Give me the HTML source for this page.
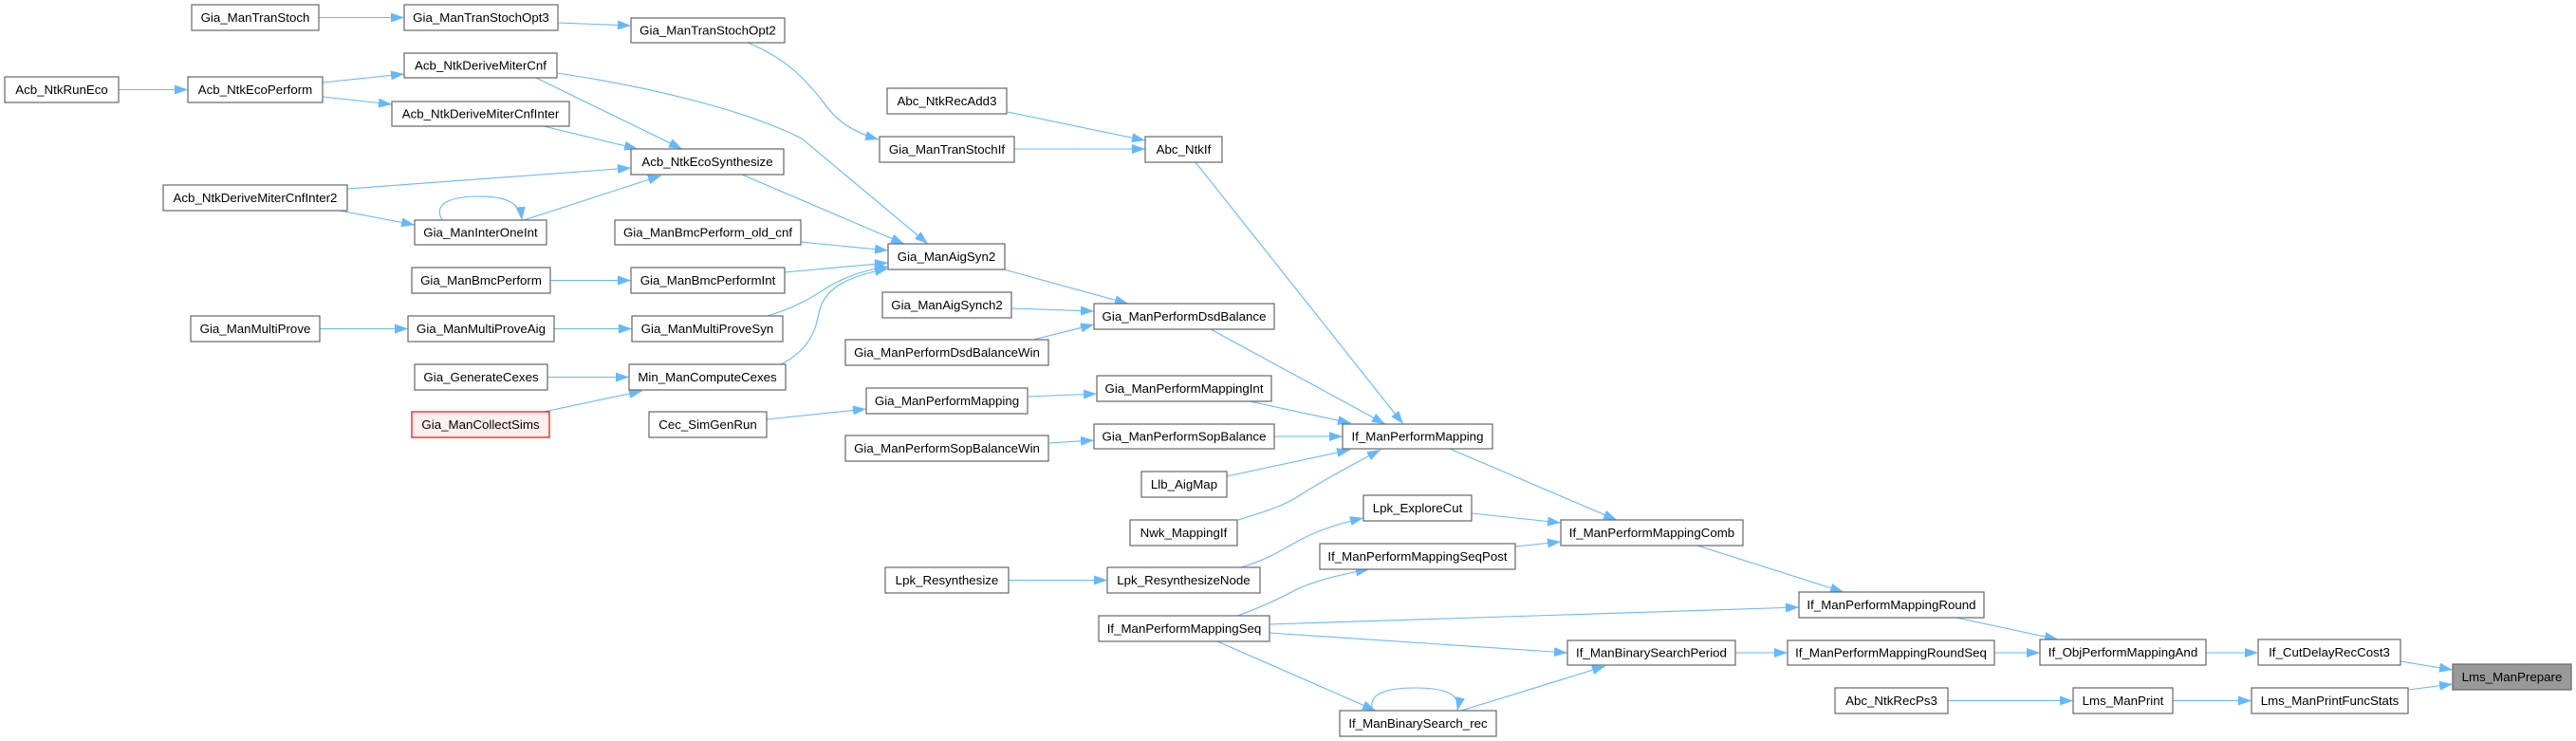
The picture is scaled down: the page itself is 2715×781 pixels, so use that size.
<!DOCTYPE html>
<html><head><meta charset="utf-8"><style>
html,body{margin:0;padding:0;background:#fff;}
svg{display:block;}
text{font-family:"Liberation Sans",Arial,sans-serif;font-size:13.3px;fill:#000;text-anchor:middle;}
.n{fill:#fff;stroke:#666;stroke-width:1.2;}
.e{fill:none;stroke:#63B8FF;stroke-width:1.1;}
</style></head><body>
<svg width="2715" height="781" viewBox="0 0 2715 781" xmlns="http://www.w3.org/2000/svg">
<defs>
<marker id="a" markerUnits="userSpaceOnUse" markerWidth="14" markerHeight="10" refX="14" refY="5" orient="auto"><path d="M0,0 L14,5 L0,10 z" fill="#63B8FF"/></marker>
</defs>
<g marker-end="url(#a)">
<path class="e" marker-end="url(#a)" d="M336,18.5 L426,18.5"/>
<path class="e" marker-end="url(#a)" d="M588,24 L665,27"/>
<path class="e" marker-end="url(#a)" d="M788,45 C830,62 850,85 868,108 C880,125 895,138 926,147"/>
<path class="e" marker-end="url(#a)" d="M1062,118 L1207,148"/>
<path class="e" marker-end="url(#a)" d="M1069,157 L1207,157"/>
<path class="e" marker-end="url(#a)" d="M1260,171 L1479,447"/>
<path class="e" marker-end="url(#a)" d="M125,94.5 L198,94.5"/>
<path class="e" marker-end="url(#a)" d="M340,87 L426,78"/>
<path class="e" marker-end="url(#a)" d="M340,102 L413,110"/>
<path class="e" marker-end="url(#a)" d="M565,82 L719,157"/>
<path class="e" marker-end="url(#a)" d="M587,77 C690,92 790,118 845,146 L978,257"/>
<path class="e" marker-end="url(#a)" d="M573,133 L672,157"/>
<path class="e" marker-end="url(#a)" d="M366,199 L665,177"/>
<path class="e" marker-end="url(#a)" d="M358,222 L437,237"/>
<path class="e" marker-end="url(#a)" d="M466,232 C455,212 480,207 506,207 C530,207 548,212 550,232"/>
<path class="e" marker-end="url(#a)" d="M552,232 L697,185"/>
<path class="e" marker-end="url(#a)" d="M782,184 L953,257"/>
<path class="e" marker-end="url(#a)" d="M844,255 L936,264"/>
<path class="e" marker-end="url(#a)" d="M580,295.5 L665,295.5"/>
<path class="e" marker-end="url(#a)" d="M827,287 L936,277"/>
<path class="e" marker-end="url(#a)" d="M337,346.5 L430,346.5"/>
<path class="e" marker-end="url(#a)" d="M584,346.5 L666,346.5"/>
<path class="e" marker-end="url(#a)" d="M809,333 C845,322 860,310 877,300 C895,290 915,284 936,281"/>
<path class="e" marker-end="url(#a)" d="M577,397.5 L663,397.5"/>
<path class="e" marker-end="url(#a)" d="M573,434 L677,412"/>
<path class="e" marker-end="url(#a)" d="M823,384 C855,368 860,345 863,330 C868,305 890,292 936,283"/>
<path class="e" marker-end="url(#a)" d="M1058,284 L1189,320"/>
<path class="e" marker-end="url(#a)" d="M1066,325 L1153,328"/>
<path class="e" marker-end="url(#a)" d="M1089,358 L1153,342"/>
<path class="e" marker-end="url(#a)" d="M1276,347 L1460,447"/>
<path class="e" marker-end="url(#a)" d="M1083,418 L1156,415"/>
<path class="e" marker-end="url(#a)" d="M808,442 L913,431"/>
<path class="e" marker-end="url(#a)" d="M1317,423 L1424,446"/>
<path class="e" marker-end="url(#a)" d="M1105,467 L1153,464"/>
<path class="e" marker-end="url(#a)" d="M1343,460 L1415,460"/>
<path class="e" marker-end="url(#a)" d="M1293,502 L1423,474"/>
<path class="e" marker-end="url(#a)" d="M1305,548 C1330,540 1350,535 1370,522 C1395,506 1425,490 1455,474"/>
<path class="e" marker-end="url(#a)" d="M1528,473 L1704,548"/>
<path class="e" marker-end="url(#a)" d="M1551,541 L1645,551"/>
<path class="e" marker-end="url(#a)" d="M1597,576 L1645,571"/>
<path class="e" marker-end="url(#a)" d="M1063,611.5 L1167,611.5"/>
<path class="e" marker-end="url(#a)" d="M1308,598 C1335,590 1350,580 1365,572 C1385,560 1410,552 1437,546"/>
<path class="e" marker-end="url(#a)" d="M1304,649 C1330,640 1350,630 1365,622 C1385,612 1415,605 1443,600"/>
<path class="e" marker-end="url(#a)" d="M1338,658 L1896,640"/>
<path class="e" marker-end="url(#a)" d="M1338,667 L1652,688"/>
<path class="e" marker-end="url(#a)" d="M1283,676 L1450,749"/>
<path class="e" marker-end="url(#a)" d="M1447,749 C1440,730 1465,725 1491,725 C1520,725 1540,730 1536,749"/>
<path class="e" marker-end="url(#a)" d="M1540,749 L1692,702"/>
<path class="e" marker-end="url(#a)" d="M1829,688 L1884,688"/>
<path class="e" marker-end="url(#a)" d="M1789,575 L1943,624"/>
<path class="e" marker-end="url(#a)" d="M2062,651 L2169,674"/>
<path class="e" marker-end="url(#a)" d="M2102,688 L2150,688"/>
<path class="e" marker-end="url(#a)" d="M2325,688 L2380,688"/>
<path class="e" marker-end="url(#a)" d="M2530,697 L2585,706"/>
<path class="e" marker-end="url(#a)" d="M2053,738.5 L2185,738.5"/>
<path class="e" marker-end="url(#a)" d="M2290,738.5 L2373,738.5"/>
<path class="e" marker-end="url(#a)" d="M2538,727 L2585,721"/>
</g>

<rect class="n" x="202" y="5" width="134" height="27"/><text x="269" y="23">Gia_ManTranStoch</text>
<rect class="n" x="426" y="5" width="162" height="27"/><text x="507" y="23">Gia_ManTranStochOpt3</text>
<rect class="n" x="426" y="56" width="161" height="26"/><text x="506.5" y="73.5">Acb_NtkDeriveMiterCnf</text>
<rect class="n" x="5" y="81" width="120" height="27"/><text x="65" y="99">Acb_NtkRunEco</text>
<rect class="n" x="198" y="81" width="142" height="27"/><text x="269" y="99">Acb_NtkEcoPerform</text>
<rect class="n" x="413" y="107" width="187" height="26"/><text x="506.5" y="124.5">Acb_NtkDeriveMiterCnfInter</text>
<rect class="n" x="172" y="195" width="194" height="27"/><text x="269" y="213">Acb_NtkDeriveMiterCnfInter2</text>
<rect class="n" x="437" y="232" width="139" height="26"/><text x="506.5" y="249.5">Gia_ManInterOneInt</text>
<rect class="n" x="434" y="282" width="146" height="27"/><text x="507" y="300">Gia_ManBmcPerform</text>
<rect class="n" x="201" y="333" width="136" height="27"/><text x="269" y="351">Gia_ManMultiProve</text>
<rect class="n" x="430" y="333" width="154" height="27"/><text x="507" y="351">Gia_ManMultiProveAig</text>
<rect class="n" x="437" y="384" width="140" height="27"/><text x="507" y="402">Gia_GenerateCexes</text>
<rect x="434" y="434" width="145" height="27" fill="#FFF0F0" stroke="#FF0000" stroke-width="1.2"/><text x="506.5" y="452">Gia_ManCollectSims</text>
<rect class="n" x="665" y="19" width="162" height="26"/><text x="746" y="36.5">Gia_ManTranStochOpt2</text>
<rect class="n" x="935" y="93" width="126" height="27"/><text x="998" y="111">Abc_NtkRecAdd3</text>
<rect class="n" x="927" y="144" width="142" height="27"/><text x="998" y="162">Gia_ManTranStochIf</text>
<rect class="n" x="665" y="157" width="161" height="27"/><text x="745.5" y="175">Acb_NtkEcoSynthesize</text>
<rect class="n" x="1207" y="144" width="81" height="27"/><text x="1247.5" y="162">Abc_NtkIf</text>
<rect class="n" x="648" y="232" width="196" height="26"/><text x="746" y="249.5">Gia_ManBmcPerform_old_cnf</text>
<rect class="n" x="936" y="257" width="123" height="27"/><text x="997.5" y="275">Gia_ManAigSyn2</text>
<rect class="n" x="665" y="282" width="162" height="27"/><text x="746" y="300">Gia_ManBmcPerformInt</text>
<rect class="n" x="930" y="308" width="136" height="27"/><text x="998" y="326">Gia_ManAigSynch2</text>
<rect class="n" x="1153" y="320" width="190" height="27"/><text x="1248" y="338">Gia_ManPerformDsdBalance</text>
<rect class="n" x="666" y="333" width="159" height="27"/><text x="745.5" y="351">Gia_ManMultiProveSyn</text>
<rect class="n" x="891" y="358" width="214" height="27"/><text x="998" y="376">Gia_ManPerformDsdBalanceWin</text>
<rect class="n" x="663" y="384" width="165" height="27"/><text x="745.5" y="402">Min_ManComputeCexes</text>
<rect class="n" x="1156" y="396" width="184" height="27"/><text x="1248" y="414">Gia_ManPerformMappingInt</text>
<rect class="n" x="913" y="409" width="170" height="27"/><text x="998" y="427">Gia_ManPerformMapping</text>
<rect class="n" x="684" y="434" width="124" height="27"/><text x="746" y="452">Cec_SimGenRun</text>
<rect class="n" x="1153" y="447" width="190" height="26"/><text x="1248" y="464.5">Gia_ManPerformSopBalance</text>
<rect class="n" x="891" y="459" width="214" height="27"/><text x="998" y="477">Gia_ManPerformSopBalanceWin</text>
<rect class="n" x="1415" y="447" width="158" height="26"/><text x="1494" y="464.5">If_ManPerformMapping</text>
<rect class="n" x="1203" y="497" width="90" height="27"/><text x="1248" y="515">Llb_AigMap</text>
<rect class="n" x="1191" y="548" width="113" height="27"/><text x="1247.5" y="566">Nwk_MappingIf</text>
<rect class="n" x="1437" y="522" width="114" height="27"/><text x="1494" y="540">Lpk_ExploreCut</text>
<rect class="n" x="1391" y="573" width="206" height="27"/><text x="1494" y="591">If_ManPerformMappingSeqPost</text>
<rect class="n" x="1645" y="548" width="192" height="27"/><text x="1741" y="566">If_ManPerformMappingComb</text>
<rect class="n" x="933" y="598" width="130" height="27"/><text x="998" y="616">Lpk_Resynthesize</text>
<rect class="n" x="1167" y="598" width="161" height="27"/><text x="1247.5" y="616">Lpk_ResynthesizeNode</text>
<rect class="n" x="1158" y="649" width="180" height="27"/><text x="1248" y="667">If_ManPerformMappingSeq</text>
<rect class="n" x="1896" y="624" width="195" height="27"/><text x="1993.5" y="642">If_ManPerformMappingRound</text>
<rect class="n" x="1652" y="675" width="177" height="26"/><text x="1740.5" y="692.5">If_ManBinarySearchPeriod</text>
<rect class="n" x="1884" y="675" width="218" height="26"/><text x="1993" y="692.5">If_ManPerformMappingRoundSeq</text>
<rect class="n" x="1412" y="749" width="165" height="27"/><text x="1494.5" y="767">If_ManBinarySearch_rec</text>
<rect class="n" x="2150" y="674" width="175" height="27"/><text x="2237.5" y="692">If_ObjPerformMappingAnd</text>
<rect class="n" x="2380" y="674" width="150" height="27"/><text x="2455" y="692">If_CutDelayRecCost3</text>
<rect x="2585" y="700" width="125" height="27" fill="#999999" stroke="#666666" stroke-width="1.2"/><text x="2647.5" y="718">Lms_ManPrepare</text>
<rect class="n" x="1934" y="725" width="119" height="27"/><text x="1993.5" y="743">Abc_NtkRecPs3</text>
<rect class="n" x="2185" y="725" width="105" height="27"/><text x="2237.5" y="743">Lms_ManPrint</text>
<rect class="n" x="2373" y="725" width="165" height="27"/><text x="2455.5" y="743">Lms_ManPrintFuncStats</text>
</svg>
</body></html>
